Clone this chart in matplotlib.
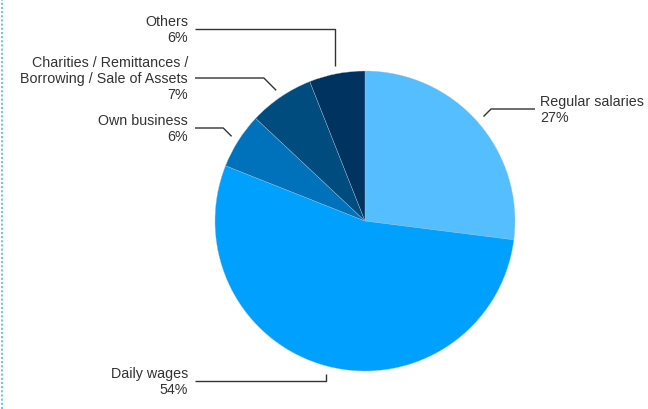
import numpy as np
import matplotlib
matplotlib.use('Agg')

import matplotlib.pyplot as plt
from matplotlib.lines import Line2D


# income source shares, clockwise from 12 o'clock
labels = ['Regular salaries', 'Daily wages', 'Own business',
          'Charities / Remittances /\nBorrowing / Sale of Assets', 'Others']
shares = [27, 54, 6, 7, 6]
colors = ['#55befe', '#00a1fe', '#0071bb', '#004c7e', '#003360']

# leader layout: y of horizontal run, end x of run, text x, side, elbow kind
lead_y = [110, 382, 129, 79, 30]
lead_end = [535, 195, 195, 195, 195]
text_x = [540, 188, 188, 188, 188]
side = ['right', 'left', 'left', 'left', 'left']
elbow = ['diag', 'vert', 'diag', 'diag', 'vert']

CENTER = (365, 222)
RADIUS = 150
TEXT_COLOR = '#333333'

plt.rcParams['font.family'] = ['Liberation Sans', 'DejaVu Sans']

fig = plt.figure(figsize=(6.48, 4.10), dpi=100)
ax = fig.add_axes([0, 0, 1, 1])

wedges, _ = ax.pie(shares, colors=colors, startangle=-90, counterclock=True,
                   radius=RADIUS, center=CENTER,
                   wedgeprops=dict(edgecolor='#a8c4da', linewidth=0.25))
ax.set_xlim(0, 648)
ax.set_ylim(410, 0)
ax.axis('off')

for i, w in enumerate(wedges):
    mid = np.deg2rad((w.theta1 + w.theta2) / 2.0)
    x0 = CENTER[0] + (RADIUS + 8) * np.cos(mid)
    y0 = CENTER[1] + (RADIUS + 8) * np.sin(mid)
    y1 = lead_y[i]
    if elbow[i] == 'diag':
        dx = abs(y0 - y1)
        x1 = x0 + dx if side[i] == 'right' else x0 - dx
    else:
        x1 = x0
    ax.plot([x0, x1, lead_end[i]], [y0, y1, y1], color=TEXT_COLOR, lw=1,
            solid_capstyle='butt')

    txt = '%s\n%d%%' % (labels[i], shares[i])
    ha = 'left' if side[i] == 'right' else 'right'
    ax.text(text_x[i], y1, txt, ha=ha, va='center', fontsize=10.3,
            color=TEXT_COLOR, multialignment=ha, linespacing=1.14)

# dotted guide along the left edge
fig.add_artist(Line2D([2 / 648, 2 / 648], [0, 1], color='#6cc6ef', lw=1.5,
                      linestyle=(0, (1, 1))))

fig.savefig('out.png', dpi=100)
plt.close()
